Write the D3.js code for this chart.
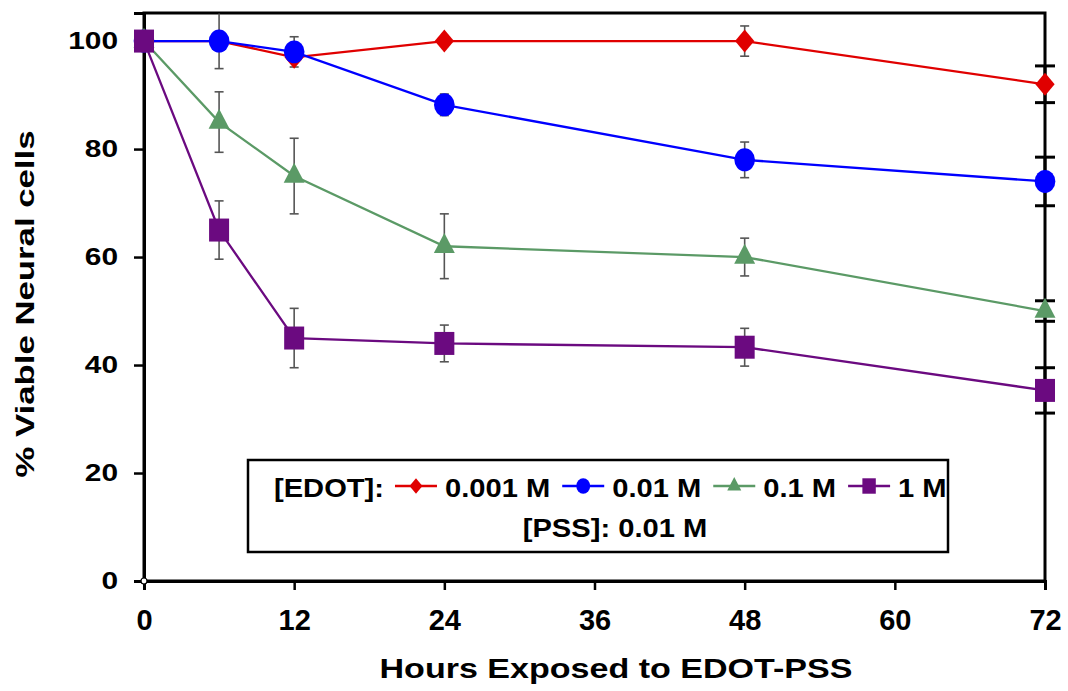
<!DOCTYPE html>
<html>
<head>
<meta charset="utf-8">
<script src="https://cdn.jsdelivr.net/npm/d3@7"></script>
<style>
  html, body { margin: 0; padding: 0; background: #fff; }
  svg { display: block; font-family: "Liberation Sans", Arial, sans-serif; font-weight: bold; }
</style>
</head>
<body>
<svg id="chart" width="1068" height="691"></svg>
<script>
// ---- data ----
const hours = [0, 6, 12, 24, 48, 72];
const seriesNames = ["0.001 M", "0.01 M", "0.1 M", "1 M"];
const viable_0001 = [100, 100, 97, 100, 100, 92];
const viable_001  = [100, 100, 98, 88.2, 78, 74];
const viable_01   = [100, 85, 75, 62, 60, 50];
const viable_1    = [100, 65, 45, 44, 43.3, 35.3];
const err_0001 = [0, 0, 0, 0, 2.8, 3.4];
const err_001  = [0, 5.1, 2.8, 2, 3.3, 4.5];
const err_01   = [0, 5.6, 7, 6, 3.5, 1.9];
const err_1    = [0, 5.4, 5.5, 3.4, 3.5, 4.2];
const xTicks = [0, 12, 24, 36, 48, 60, 72];
const yTicks = [0, 20, 40, 60, 80, 100];
const legendTitle = "[EDOT]:";
const legendNote = "[PSS]: 0.01 M";
const xTitle = "Hours Exposed to EDOT-PSS";
const yTitle = "% Viable Neural cells";

// ---- styling ----
const colors = ["#e00000", "#0000ff", "#5b9a66", "#6b0a80"];
const symbols = [d3.symbolDiamond, d3.symbolCircle, d3.symbolTriangle, d3.symbolSquare];
const mSize  = [153, 415, 190, 529];
const mScale = [[1.45, 1], [0.9, 1], [1, 1.1], [0.87, 1]];
const series = seriesNames.map((name, i) => ({
  name, color: colors[i], symbol: symbols[i],
  values: [viable_0001, viable_001, viable_01, viable_1][i],
  errors: [err_0001, err_001, err_01, err_1][i]
}));

const svg = d3.select("#chart");
const L = 144, R = 1045, T = 13, B = 581;
const x = d3.scaleLinear().domain([0, 72]).range([L, R]);
const y = d3.scaleLinear().domain([0, 105.2]).range([B, T]);

// frame
svg.append("rect").attr("x", L).attr("y", T).attr("width", R - L).attr("height", B - T)
  .attr("fill", "none").attr("stroke", "#000").attr("stroke-width", 3);

// y axis
const yAxis = svg.append("g").attr("transform", `translate(${L},0)`)
  .call(d3.axisLeft(y).tickValues(yTicks).tickSize(10).tickPadding(16));
yAxis.select(".domain").attr("stroke-width", 3);
yAxis.selectAll(".tick line").attr("stroke-width", 2.5);
yAxis.selectAll(".tick text")
  .attr("font-size", 23).attr("font-weight", "bold").attr("fill", "#000")
  .attr("font-family", "Liberation Sans, Arial, sans-serif")
  .attr("x", -26 / 1.3).attr("transform", "scale(1.3,1)");

// x axis
const xAxis = svg.append("g").attr("transform", `translate(0,${B})`)
  .call(d3.axisBottom(x).tickValues(xTicks).tickSize(9).tickPadding(19));
xAxis.select(".domain").attr("stroke-width", 3);
xAxis.selectAll(".tick line").attr("stroke-width", 2.5);
xAxis.selectAll(".tick text")
  .attr("font-size", 29).attr("font-weight", "bold").attr("fill", "#000")
  .attr("font-family", "Liberation Sans, Arial, sans-serif");

// origin marker
svg.append("circle").attr("cx", x(0)).attr("cy", y(0)).attr("r", 3)
  .attr("fill", "#fff").attr("stroke", "#000").attr("stroke-width", 1.2);

// error bars
const eg = svg.append("g");
series.forEach(s => {
  hours.forEach((h, i) => {
    const e = s.errors[i];
    if (!e) return;
    const onAxis = h === 72;
    const hw = onAxis ? 10 : 4.5;
    const st = onAxis ? "#000" : "#555";
    const sw = onAxis ? 3 : 1.6;
    const cx = x(h), y1 = y(s.values[i] + e), y2 = y(s.values[i] - e);
    eg.append("line").attr("x1", cx).attr("x2", cx).attr("y1", Math.max(y1, T)).attr("y2", y2)
      .attr("stroke", st).attr("stroke-width", sw);
    if (y1 >= T + 2)
      eg.append("line").attr("x1", cx - hw).attr("x2", cx + hw).attr("y1", y1).attr("y2", y1)
        .attr("stroke", st).attr("stroke-width", sw);
    eg.append("line").attr("x1", cx - hw).attr("x2", cx + hw).attr("y1", y2).attr("y2", y2)
      .attr("stroke", st).attr("stroke-width", sw);
  });
});

// lines and markers
const line = d3.line().x((d, i) => x(hours[i])).y(d => y(d));
series.forEach((s, si) => {
  svg.append("path").datum(s.values).attr("d", line)
    .attr("fill", "none").attr("stroke", s.color).attr("stroke-width", 2.3);
  svg.append("g").selectAll("path").data(s.values).join("path")
    .attr("transform", (d, i) => `translate(${x(hours[i])},${y(d)}) scale(${mScale[si][0]},${mScale[si][1]})`)
    .attr("d", d3.symbol().type(s.symbol).size(mSize[si]))
    .attr("fill", s.color);
});

// titles
svg.append("text").attr("x", 616).attr("y", 678).attr("text-anchor", "middle")
  .attr("font-size", 28).attr("textLength", 473).attr("lengthAdjust", "spacingAndGlyphs")
  .text(xTitle);
svg.append("text").attr("transform", "translate(34,304) rotate(-90)").attr("text-anchor", "middle")
  .attr("font-size", 26).attr("textLength", 347).attr("lengthAdjust", "spacingAndGlyphs")
  .text(yTitle);

// legend
const lg = svg.append("g");
lg.append("rect").attr("x", 248).attr("y", 460).attr("width", 700).attr("height", 92)
  .attr("fill", "#fff").attr("stroke", "#000").attr("stroke-width", 2.5);
const stretch = 1.12;
function stretchedText(g, str, x0, yb, size) {
  const t = g.append("text").attr("x", x0).attr("y", yb).attr("font-size", size).text(str);
  const w = t.node().getComputedTextLength() * stretch;
  t.attr("textLength", w).attr("lengthAdjust", "spacingAndGlyphs");
  return w;
}
let lx = 274;
const rowY = 497;
lx += stretchedText(lg, legendTitle, lx, rowY, 26) + 11;
const legFactor = 0.45;
series.forEach((s, si) => {
  lg.append("line").attr("x1", lx).attr("x2", lx + 42).attr("y1", rowY - 11).attr("y2", rowY - 11)
    .attr("stroke", s.color).attr("stroke-width", 2.3);
  lg.append("path").attr("transform", `translate(${lx + 21},${rowY - 11}) scale(${mScale[si][0]},${mScale[si][1]})`)
    .attr("d", d3.symbol().type(s.symbol).size(mSize[si] * legFactor)).attr("fill", s.color);
  lx += 50;
  lx += stretchedText(lg, s.name, lx, rowY, 26) + 12;
});
const t2 = lg.append("text").attr("x", 615).attr("y", 537).attr("text-anchor", "middle")
  .attr("font-size", 26).text(legendNote);
t2.attr("textLength", t2.node().getComputedTextLength() * stretch).attr("lengthAdjust", "spacingAndGlyphs");
</script>
</body>
</html>
